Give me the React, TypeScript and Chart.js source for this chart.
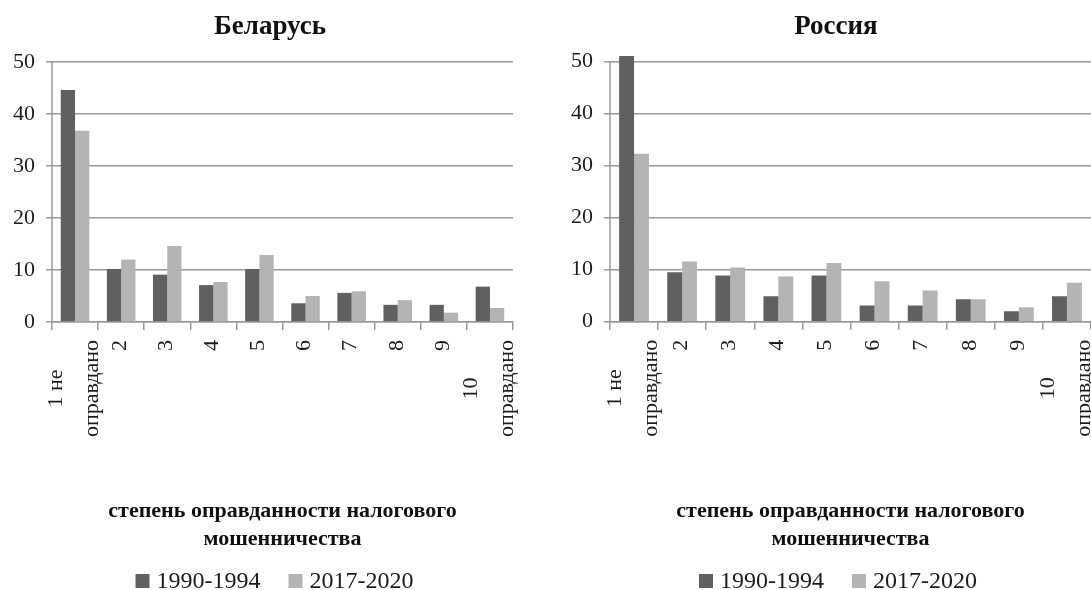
import React, { useEffect, useRef } from 'react';
import { Chart, registerables } from 'chart.js';

Chart.register(...registerables);

// ---------- data ----------
const categoryLabels: string[][] = [
  ['1 не', 'оправдано'],
  ['2'],
  ['3'],
  ['4'],
  ['5'],
  ['6'],
  ['7'],
  ['8'],
  ['9'],
  ['10', 'оправдано'],
];
const seriesNames = ['1990-1994', '2017-2020'];
const belarus1990 = [44.6, 10.2, 9.1, 7.1, 10.2, 3.6, 5.6, 3.3, 3.3, 6.8];
const belarus2017 = [36.8, 12.0, 14.6, 7.7, 12.9, 5.0, 5.9, 4.2, 1.8, 2.7];
const russia1990 = [51.1, 9.5, 8.9, 4.9, 8.9, 3.1, 3.1, 4.3, 2.0, 4.9];
const russia2017 = [32.3, 11.6, 10.4, 8.7, 11.3, 7.8, 6.0, 4.3, 2.8, 7.5];
const yTicks = [0, 10, 20, 30, 40, 50];
const xAxisTitle = ['степень оправданности налогового', 'мошенничества'];

const DARK = '#606060';
const LIGHT = '#b4b4b4';
const GRID = '#9a9a9a';
const TEXT = '#1c1c1c';
const FONT = "'Liberation Serif', 'Times New Roman', serif";

const decorPlugin = {
  id: 'decor',
  afterDraw(chart: any, _args: any, opts: any) {
    const ctx: CanvasRenderingContext2D = chart.ctx;
    const xs = chart.scales.x;
    const ys = chart.scales.y;
    ctx.save();

    // chart title
    ctx.font = `bold 27px ${FONT}`;
    ctx.fillStyle = '#111';
    ctx.textAlign = 'center';
    ctx.textBaseline = 'middle';
    ctx.fillText(opts.title, opts.titleX, opts.titleY);

    // y axis line from top tick down to 0
    ctx.strokeStyle = GRID;
    ctx.lineWidth = 1.5;
    ctx.beginPath();
    ctx.moveTo(xs.left, ys.getPixelForValue(yTicks[yTicks.length - 1]));
    ctx.lineTo(xs.left, ys.getPixelForValue(0));
    ctx.stroke();

    // rotated x tick labels
    ctx.font = `22px ${FONT}`;
    ctx.fillStyle = TEXT;
    ctx.textBaseline = 'middle';
    ctx.textAlign = 'center';
    const yTop = chart.chartArea.bottom + 18;
    const gap = 36;
    (chart.data.labels as any[]).forEach((lab, i) => {
      const lines: string[] = Array.isArray(lab) ? lab : [String(lab)];
      const cx = xs.getPixelForValue(i) - 1;
      const w = Math.max(...lines.map((l) => ctx.measureText(l).width));
      lines.forEach((line, j) => {
        const lx = cx + (j - (lines.length - 1) / 2) * gap;
        ctx.save();
        ctx.translate(lx, yTop);
        ctx.rotate(-Math.PI / 2);
        ctx.fillText(line, -w / 2, 0);
        ctx.restore();
      });
    });

    // legend
    ctx.font = `24px ${FONT}`;
    ctx.textAlign = 'left';
    const box = 14;
    const boxGap = 7;
    const itemGap = 28;
    const items = chart.data.datasets.map((d: any) => ({
      text: d.label,
      color: d.backgroundColor,
      w: ctx.measureText(d.label).width,
    }));
    const total =
      items.reduce((s: number, it: any) => s + box + boxGap + it.w, 0) +
      itemGap * (items.length - 1);
    let x = opts.legendCenter - total / 2;
    const cy = opts.legendY;
    items.forEach((it: any) => {
      ctx.fillStyle = it.color;
      ctx.fillRect(x, cy - box / 2, box, box);
      x += box + boxGap;
      ctx.fillStyle = TEXT;
      ctx.fillText(it.text, x, cy + 1);
      x += it.w + itemGap;
    });
    ctx.restore();
  },
};

type PanelProps = {
  title: string;
  titleX: number;
  first: number[];
  second: number[];
  left: number;
  width: number;
  padLeft: number;
  padRight: number;
  padTop: number;
  yMax: number;
  xHeight: number;
  legendCenter: number;
};

function Panel(p: PanelProps) {
  const ref = useRef<HTMLCanvasElement | null>(null);
  useEffect(() => {
    if (!ref.current) return;
    const chart = new Chart(ref.current, {
      type: 'bar',
      data: {
        labels: categoryLabels as any,
        datasets: [
          {
            label: seriesNames[0],
            data: p.first,
            backgroundColor: DARK,
            borderWidth: 0,
            categoryPercentage: 0.62,
            barPercentage: 1,
          },
          {
            label: seriesNames[1],
            data: p.second,
            backgroundColor: LIGHT,
            borderWidth: 0,
            categoryPercentage: 0.62,
            barPercentage: 1,
          },
        ],
      },
      options: {
        animation: false,
        responsive: true,
        maintainAspectRatio: false,
        events: [],
        layout: { padding: { left: p.padLeft, right: p.padRight, top: p.padTop, bottom: 0 } },
        plugins: {
          legend: { display: false },
          tooltip: { enabled: false },
          title: { display: false },
          decor: {
            title: p.title,
            titleX: p.titleX,
            titleY: 27,
            legendCenter: p.legendCenter,
            legendY: 581,
          },
        } as any,
        scales: {
          x: {
            type: 'category',
            offset: true,
            grid: {
              offset: true,
              drawOnChartArea: false,
              drawTicks: true,
              tickLength: 8,
              color: GRID,
              lineWidth: 1.5,
            },
            border: { display: true, color: GRID, width: 1.5 },
            ticks: { display: false },
            title: {
              display: true,
              text: xAxisTitle,
              color: '#111',
              font: { family: FONT, size: 22, weight: 'bold', lineHeight: 1.25 },
              padding: { top: 0, bottom: 37 },
            },
            afterFit: (scale: any) => {
              scale.height = p.xHeight;
            },
          },
          y: {
            min: 0,
            max: p.yMax,
            grid: {
              color: GRID,
              lineWidth: 1.5,
              drawTicks: true,
              tickLength: 6,
            },
            border: { display: false },
            ticks: {
              stepSize: 10,
              includeBounds: false,
              padding: 11,
              color: TEXT,
              font: { family: FONT, size: 22 },
            },
            afterBuildTicks: (scale: any) => {
              scale.ticks = yTicks.map((v) => ({ value: v }));
            },
            afterFit: (scale: any) => {
              scale.width = 39;
            },
          },
        },
      } as any,
      plugins: [decorPlugin as any],
    });
    return () => chart.destroy();
  }, []);
  return (
    <div
      style={{
        position: 'absolute',
        left: p.left,
        top: 0,
        width: p.width,
        height: 590,
      }}
    >
      <canvas ref={ref} />
    </div>
  );
}

export default function App() {
  return (
    <div
      style={{
        position: 'fixed',
        left: 0,
        top: 0,
        width: 1091,
        height: 590,
        overflow: 'hidden',
        background: '#ffffff',
      }}
    >
      <Panel
        title="Беларусь"
        titleX={270}
        first={belarus1990}
        second={belarus2017}
        left={0}
        width={545}
        padLeft={13}
        padRight={32}
        padTop={62}
        yMax={50}
        xHeight={268}
        legendCenter={274.5}
      />
      <Panel
        title="Россия"
        titleX={291}
        first={russia1990}
        second={russia2017}
        left={545}
        width={546}
        padLeft={26}
        padRight={0}
        padTop={51.3}
        yMax={52}
        xHeight={268.3}
        legendCenter={293}
      />
    </div>
  );
}
